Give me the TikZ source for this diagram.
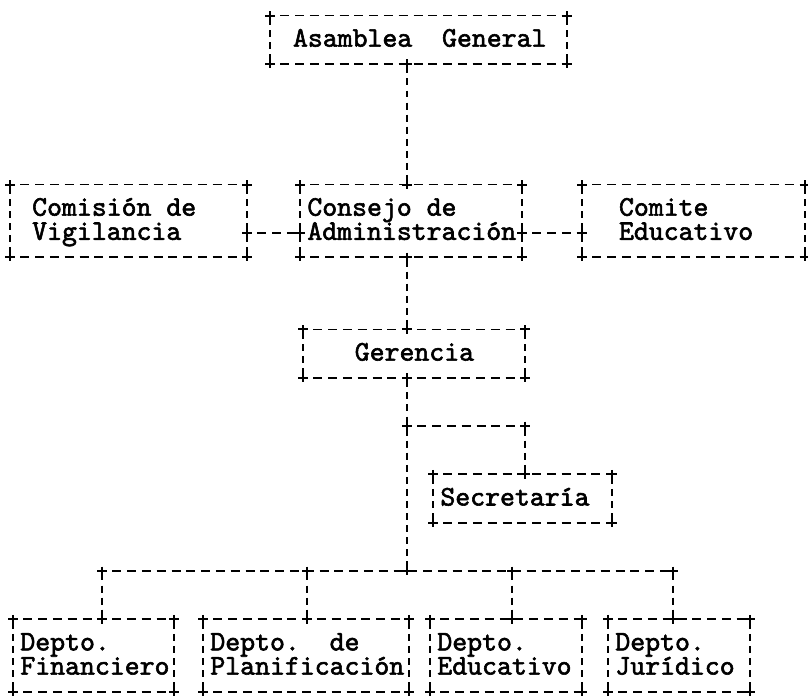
\documentclass[tikz,border=0pt]{standalone}
\usepackage{fontspec}
\newfontfamily\prt{lmmono10-regular.otf}[FakeBold=2]
\newcommand\dbox[1]{%
 \draw[hd] (#1.north west) -- (#1.north east);
 \draw[hd] (#1.south west) -- (#1.south east);
 \draw[vd] (#1.north west) -- (#1.south west);
 \draw[vd] (#1.north east) -- (#1.south east);
 \pic at (#1.north west) {crs}; \pic at (#1.north east) {crs};
 \pic at (#1.south west) {crs}; \pic at (#1.south east) {crs};}
\begin{document}
\begin{tikzpicture}[x=0.75pt,y=-0.75pt,
  box/.style={draw=none,rectangle,inner sep=0pt,outer sep=0pt},
  txt/.style={anchor=base west,inner sep=0pt,outer sep=0pt,text height=9.5pt,text depth=2.5pt,font=\prt\fontsize{21.3}{18}\selectfont},
  hd/.style={line width=1.4pt,dash pattern=on 6.75pt off 4.35pt,dash phase=3.375pt},
  vd/.style={line width=1.4pt,dash pattern=on 5.2pt off 3.85pt,dash phase=7.125pt},
  crs/.pic={\draw[line width=1.5pt] (-4.6,0)--(4.6,0) (0,-4.4)--(0,4.4);}
]
\path[use as bounding box,fill=white] (0,0) rectangle (808,697);

% boxes
\node[box,minimum width=222.75pt,minimum height=36.225pt] (asam) at (418.5,39.65) {};
\node[box,minimum width=177.75pt,minimum height=54.3375pt] (comis) at (128.5,220.775) {};
\node[box,minimum width=166.5pt,minimum height=54.3375pt] (consejo) at (411,220.775) {};
\node[box,minimum width=167.25pt,minimum height=54.3375pt] (comite) at (693.5,220.775) {};
\node[box,minimum width=166.5pt,minimum height=36.225pt] (geren) at (414,353.6) {};
\node[box,minimum width=134.25pt,minimum height=36.225pt] (secre) at (522.5,498.5) {};
\node[box,minimum width=120.75pt,minimum height=54.3375pt] (fin) at (93.5,655.475) {};
\node[box,minimum width=154.5pt,minimum height=54.3375pt] (plan) at (306,655.475) {};
\node[box,minimum width=114pt,minimum height=54.3375pt] (edu) at (506,655.475) {};
\node[box,minimum width=106.5pt,minimum height=54.3375pt] (jur) at (679,655.475) {};

\dbox{asam}\dbox{comis}\dbox{consejo}\dbox{comite}\dbox{geren}
\dbox{secre}\dbox{fin}\dbox{plan}\dbox{edu}\dbox{jur}

% texts
\node[txt] (tasam) at (293,46.65) {Asamblea~~General};
\node[txt] (tcomisa) at (32.2,215.7) {Comisión de};
\node[txt] (tcomisb) at (32.2,239.85) {Vigilancia};
\node[txt] (tconsa) at (307.4,215.7) {Consejo de};
\node[txt] (tconsb) at (307.4,239.85) {Administración};
\node[txt] (tcomitea) at (619,215.7) {Comite};
\node[txt] (tcomiteb) at (619,239.85) {Educativo};
\node[txt] (tgeren) at (354.8,360.6) {Gerencia};
\node[txt] (tsecre) at (440.4,505.5) {Secretaría};
\node[txt] (tfina) at (20.4,650.4) {Depto.};
\node[txt] (tfinb) at (20.4,674.55) {Financiero};
\node[txt] (tplana) at (210.4,650.4) {Depto.~~de};
\node[txt] (tplanb) at (210.4,674.55) {Planificación};
\node[txt] (tedua) at (437.4,650.4) {Depto.};
\node[txt] (tedub) at (437.4,674.55) {Educativo};
\node[txt] (tjura) at (615.4,650.4) {Depto.};
\node[txt] (tjurb) at (615.4,674.55) {Jurídico};

% helper coordinates
\coordinate (vx) at (407,0);
\coordinate (ha) at (0,232.85);
\coordinate (s1) at (407,426.05);
\coordinate (s2) at (525,426.05);
\coordinate (b1) at (102,570.95);
\coordinate (b2) at (307,570.95);
\coordinate (b3) at (407,570.95);
\coordinate (b4) at (512,570.95);
\coordinate (b5) at (673,570.95);

% connectors
\draw[vd] (asam.south -| vx) -- (consejo.north -| vx);
\draw[hd] (comis.east |- ha) -- (consejo.west |- ha);
\draw[hd] (consejo.east |- ha) -- (comite.west |- ha);
\draw[vd] (consejo.south -| vx) -- (geren.north -| vx);
\draw[vd] (geren.south -| vx) -- (b3);
\draw[hd] (s1) -- (s2);
\draw[vd] (s2) -- (secre.north -| s2);
\draw[hd] (b1) -- (b5);
\draw[vd] (b1) -- (fin.north -| b1);
\draw[vd] (b2) -- (plan.north -| b2);
\draw[vd] (b4) -- (edu.north -| b4);
\draw[vd] (b5) -- (jur.north -| b5);

% junction marks
\foreach \p in {asam.south -| vx, consejo.north -| vx, consejo.south -| vx,
  geren.north -| vx, geren.south -| vx, comis.east |- ha, consejo.west |- ha,
  consejo.east |- ha, comite.west |- ha, s1, s2, secre.north -| s2,
  b1, b2, b3, b4, b5, fin.north -| b1, plan.north -| b2, edu.north -| b4, jur.north -| b5}
  {\pic at (\p) {crs};}
\end{tikzpicture}
\end{document}
